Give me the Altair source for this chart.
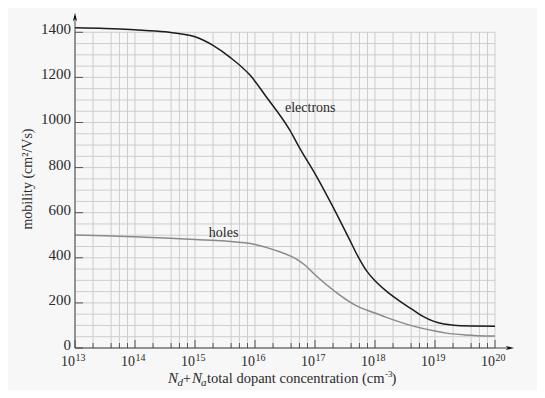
import altair as alt
import pandas as pd

# ---- data ----
exponents = [13, 14, 15, 16, 17, 18, 19, 20]
minor_multipliers = [2, 4, 5.5, 7.5]
mobility_ticks = [0, 200, 400, 600, 800, 1000, 1200, 1400]
mobility_grid = list(range(0, 1401, 50))

electron_log_n = [13.0, 13.5, 14.0, 14.5, 15.0, 15.3, 15.58, 15.92, 16.19, 16.58, 16.75,
                  17.03, 17.31, 17.58, 17.72, 17.86, 18.0, 18.19, 18.4, 18.64, 18.8,
                  18.97, 19.15, 19.31, 19.6, 20.0]
electron_mu = [1420, 1417, 1411, 1402, 1380, 1342, 1290, 1209, 1113, 966, 884,
               759, 620, 478, 404, 342, 298, 252, 210, 168, 140,
               119, 106, 101, 98, 97]
hole_log_n = [13.0, 13.5, 14.0, 14.5, 15.0, 15.5, 16.0, 16.33, 16.67, 16.83, 17.0,
              17.33, 17.67, 18.0, 18.19, 18.64, 19.0, 19.19, 19.5, 20.0]
hole_mu = [501, 498, 493, 488, 481, 474, 459, 434, 397, 368, 325,
           251, 190, 155, 136, 97, 75, 66, 58, 53]

# ---- tables ----
curves = pd.DataFrame(
    {"N": [10 ** v for v in electron_log_n] + [10 ** v for v in hole_log_n],
     "mu": electron_mu + hole_mu,
     "carrier": ["electrons"] * len(electron_mu) + ["holes"] * len(hole_mu),
     "order": list(range(len(electron_mu))) + list(range(len(hole_mu)))})
decades = pd.DataFrame({"N": [10.0 ** e for e in exponents],
                        "base": ["10"] * len(exponents),
                        "exp": [str(e) for e in exponents]})
minors = pd.DataFrame({"N": [m * 10.0 ** e for e in exponents[:-1] for m in minor_multipliers]})
vgrid = pd.concat([decades[["N"]], minors], ignore_index=True)
vgrid["y0"] = 0
vgrid["y1"] = 1400
hgrid = pd.DataFrame({"mu": mobility_grid, "x0": 1e13, "x1": 1e20})
yt = pd.DataFrame({"mu": mobility_ticks, "lab": [str(v) for v in mobility_ticks]})

W, H = 440, 336
xs = alt.Scale(type="log", domain=[1e13, 10 ** (20 + 1 / 3)])
ys = alt.Scale(domain=[0, 1490])
FONT = "Liberation Serif"
TXT = "#2a2a2a"
GRID = "#cdcdcd"

hg = alt.Chart(hgrid).mark_rule(color=GRID, strokeWidth=1).encode(
    y=alt.Y("mu:Q", scale=ys, axis=None),
    x=alt.X("x0:Q", scale=xs, axis=None), x2="x1:Q")
vg = alt.Chart(vgrid).mark_rule(color=GRID, strokeWidth=1).encode(
    x=alt.X("N:Q", scale=xs, axis=None),
    y=alt.Y("y0:Q", scale=ys, axis=None), y2="y1:Q")

lines = alt.Chart(curves).mark_line(strokeWidth=1.5, interpolate="monotone", clip=False).encode(
    x=alt.X("N:Q", scale=xs, axis=None),
    y=alt.Y("mu:Q", scale=ys, axis=None),
    order="order:Q",
    color=alt.Color("carrier:N", scale=alt.Scale(domain=["electrons", "holes"],
                                                 range=["#1c1c1c", "#8a8a8a"]), legend=None))

lab_e = alt.Chart(pd.DataFrame({"N": [10 ** 16.5], "mu": [1065], "t": ["electrons"]})).mark_text(
    font=FONT, fontSize=14, color=TXT, align="left", baseline="middle").encode(
    x=alt.X("N:Q", scale=xs, axis=None), y=alt.Y("mu:Q", scale=ys, axis=None), text="t:N")
lab_h = alt.Chart(pd.DataFrame({"N": [10 ** 15.23], "mu": [510], "t": ["holes"]})).mark_text(
    font=FONT, fontSize=14, color=TXT, align="left", baseline="middle").encode(
    x=alt.X("N:Q", scale=xs, axis=None), y=alt.Y("mu:Q", scale=ys, axis=None), text="t:N")

# y ticks (inward) and labels
ytick = alt.Chart(yt).mark_rule(color="#555", strokeWidth=1).encode(
    y=alt.Y("mu:Q", scale=ys, axis=None), x=alt.value(0), x2=alt.value(8))
ylab = alt.Chart(yt).mark_text(font=FONT, fontSize=15, color=TXT, align="right",
                               baseline="alphabetic", dx=-4, dy=2).encode(
    y=alt.Y("mu:Q", scale=ys, axis=None), x=alt.value(0), text="lab:N")

# x ticks (inward)
xmaj = alt.Chart(decades).mark_rule(color="#555", strokeWidth=1).encode(
    x=alt.X("N:Q", scale=xs, axis=None), y=alt.value(H), y2=alt.value(H - 8))
xmin = alt.Chart(minors).mark_rule(color="#555", strokeWidth=1).encode(
    x=alt.X("N:Q", scale=xs, axis=None), y=alt.value(H), y2=alt.value(H - 5))
xbase = alt.Chart(decades).mark_text(font=FONT, fontSize=14, color=TXT, align="right",
                                     baseline="alphabetic").encode(
    x=alt.X("N:Q", scale=xs, axis=None), y=alt.value(H + 18), text="base:N")
xexp = alt.Chart(decades).mark_text(font=FONT, fontSize=10, color=TXT, align="left",
                                    baseline="alphabetic", dx=0.5).encode(
    x=alt.X("N:Q", scale=xs, axis=None), y=alt.value(H + 13), text="exp:N")

# axis lines with arrows
axl = alt.Chart(pd.DataFrame({"a": [0]})).mark_rule(color="#444", strokeWidth=1).encode(
    x=alt.value(0), y=alt.value(H), y2=alt.value(4))
axb = alt.Chart(pd.DataFrame({"a": [0]})).mark_rule(color="#444", strokeWidth=1).encode(
    x=alt.value(0), x2=alt.value(W - 4), y=alt.value(H))
arr_up = alt.Chart(pd.DataFrame({"a": [0]})).mark_point(
    shape="M-0.5,1L0,-1L0.5,1L0,0.5Z", filled=True, size=70, color="#111", opacity=1).encode(
    x=alt.value(0), y=alt.value(5))
arr_rt = alt.Chart(pd.DataFrame({"a": [0]})).mark_point(
    shape="M-1,-0.5L1,0L-1,0.5L-0.5,0Z", filled=True, size=70, color="#111", opacity=1).encode(
    x=alt.value(W - 5), y=alt.value(H))

# axis titles
ytitle = alt.Chart(pd.DataFrame({"t": ["mobility (cm\u00b2/Vs)"]})).mark_text(
    font=FONT, fontSize=14, color=TXT, angle=270, align="center", baseline="middle").encode(
    x=alt.value(-47), y=alt.value(167), text="t:N")

BY = H + 35
parts = [
    ("N", 93, BY, 15, "italic"),
    ("d", 102.5, BY + 3, 11, "italic"),
    ("+", 108, BY, 14, "normal"),
    ("N", 117, BY, 15, "italic"),
    ("a", 126, BY + 3, 11, "italic"),
    ("total dopant concentration (cm", 132, BY, 14.5, "normal"),
    ("-3", 310, BY - 6, 9, "normal"),
    (")", 316.5, BY, 14.5, "normal"),
]
xtitle_layers = []
for t, px, py, fs, st in parts:
    xtitle_layers.append(
        alt.Chart(pd.DataFrame({"t": [t]})).mark_text(
            font=FONT, fontSize=fs, fontStyle=st, color=TXT, align="left",
            baseline="alphabetic").encode(x=alt.value(px), y=alt.value(py), text="t:N"))

chart = alt.layer(
    hg, vg, lines, lab_e, lab_h, ytick, ylab, xmaj, xmin, xbase, xexp,
    axl, axb, arr_up, arr_rt, ytitle, *xtitle_layers
).properties(
    width=W, height=H,
    background="#f7f7f7",
    padding={"left": 67, "top": 4, "right": 22, "bottom": 42},
    autosize=alt.AutoSizeParams(type="none"),
).configure_view(stroke=None)

chart.save("out.html", embed_options={"renderer": "svg", "actions": False})
